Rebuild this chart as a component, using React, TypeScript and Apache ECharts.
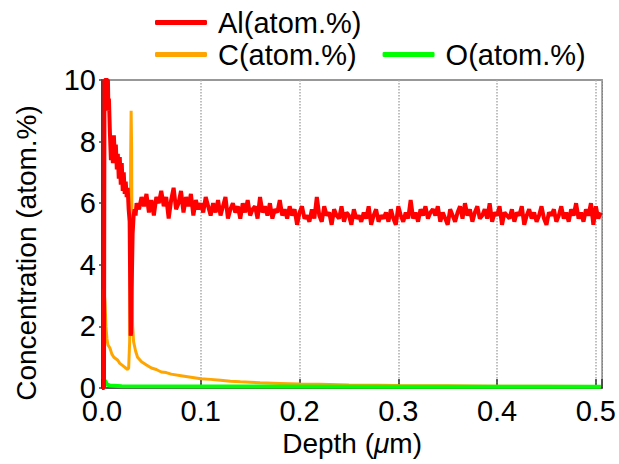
import React, { useEffect, useRef } from "react";
import * as echarts from "echarts";

// ---------- data ----------
const seriesNames = ["Al(atom.%)", "C(atom.%)", "O(atom.%)"];
const xTicks = [0, 0.1, 0.2, 0.3, 0.4, 0.5];
const yTicks = [0, 2, 4, 6, 8, 10];

// Al: near-surface part (depth in µm)
const alHeadDepth = [
  0, 0.002, 0.0025, 0.006, 0.0065, 0.007, 0.008, 0.009, 0.01, 0.011, 0.012,
  0.013, 0.014, 0.015, 0.016, 0.017, 0.018, 0.019, 0.02, 0.021, 0.022, 0.023,
  0.024, 0.025, 0.026, 0.027, 0.028, 0.0285, 0.029, 0.0295, 0.03, 0.031,
  0.032, 0.033, 0.034, 0.035,
];
const alHeadValue = [
  0, 0, 10, 10, 9.0, 9.4, 8.3, 7.4, 8.1, 7.3, 8.2, 7.5, 7.9, 7.1, 7.6, 6.8,
  7.5, 6.6, 7.3, 6.4, 7.0, 6.3, 6.7, 6.2, 6.5, 5.8, 5.4, 3.5, 1.7, 1.8, 3.2,
  5.0, 5.6, 5.8, 5.6, 6.0,
];
// Al: bulk part, sampled every 0.0025 µm from 0.0375 µm
const alTailStart = 0.0375;
const alTailStep = 0.0025;
const alTailValue = [
  5.8, 6.2, 5.9, 6.3, 5.7, 6.1, 5.6, 6.2, 6.0, 6.4,
  5.9, 6.2, 5.5, 6.1, 6.5, 5.8, 6.0, 6.4, 5.7, 6.2,
  5.9, 6.3, 5.6, 6.1, 5.8, 6.0, 5.7, 6.2, 5.9, 5.6,
  6.0, 5.7, 6.1, 5.6, 5.9, 6.2, 5.5, 5.8, 6.0, 5.7,
  5.9, 5.5, 6.0, 5.7, 6.1, 5.6, 5.8, 5.9, 5.5, 6.2,
  5.7, 5.9, 5.6, 6.0, 5.5, 5.8, 5.7, 6.1, 5.6, 5.8,
  5.5, 5.9, 5.6, 5.8, 5.3, 5.7, 5.9, 5.5, 5.6, 5.4,
  5.8, 5.5, 6.2, 5.6, 5.4, 5.9, 5.6, 5.7, 5.3, 5.8,
  5.6, 5.5, 5.9, 5.4, 5.7, 5.6, 5.3, 5.8, 5.5, 5.6,
  5.4, 5.7, 5.5, 5.9, 5.3, 5.6, 5.8, 5.4, 5.6, 5.5,
  5.7, 5.4, 5.8, 5.5, 5.3, 5.9, 5.6, 5.4, 5.7, 5.5,
  6.1, 5.5, 5.7, 5.4, 5.8, 5.6, 5.9, 5.5, 5.7, 5.8,
  5.6, 5.9, 5.4, 5.7, 5.5, 5.3, 5.8, 5.6, 5.4, 5.7,
  5.9, 5.5, 6.0, 5.6, 5.8, 5.4, 5.7, 5.9, 5.5, 5.6,
  5.8, 5.5, 6.0, 5.4, 5.7, 5.6, 5.9, 5.3, 5.7, 5.6,
  5.5, 5.8, 5.4, 5.7, 5.6, 5.9, 5.3, 5.6, 5.8, 5.5,
  5.7, 5.4, 5.6, 5.9, 5.5, 5.3, 5.7, 5.6, 5.8, 5.4,
  5.6, 5.9, 5.5, 5.7, 5.4, 5.8, 5.6, 6.0, 5.5, 5.7,
  5.4, 5.8, 5.6, 6.0, 5.3, 5.9, 5.5, 5.7,
];

const cDepth = [
  0, 0.0015, 0.002, 0.003, 0.004, 0.005, 0.006, 0.008, 0.01, 0.012, 0.014,
  0.016, 0.018, 0.02, 0.022, 0.024, 0.026, 0.027, 0.028, 0.029, 0.0295, 0.03,
  0.0305, 0.031, 0.032, 0.034, 0.036, 0.04, 0.045, 0.05, 0.055, 0.06, 0.065,
  0.07, 0.08, 0.09, 0.1, 0.11, 0.12, 0.13, 0.14, 0.15, 0.16, 0.18, 0.2, 0.22,
  0.25, 0.28, 0.3, 0.35, 0.4, 0.45, 0.505,
];
const cValue = [
  0, 0, 3.2, 2.8, 2.0, 1.6, 1.4, 1.3, 1.1, 1.0, 0.95, 0.9, 0.8, 0.75, 0.7,
  0.65, 0.6, 0.65, 1.5, 7.5, 9.0, 7.8, 3.0, 2.0, 1.5, 1.2, 1.0, 0.85, 0.75,
  0.65, 0.6, 0.52, 0.5, 0.45, 0.4, 0.35, 0.3, 0.28, 0.25, 0.22, 0.2, 0.19,
  0.17, 0.15, 0.13, 0.12, 0.1, 0.09, 0.08, 0.07, 0.06, 0.06, 0.05,
];

const oDepth = [0, 0.002, 0.003, 0.005, 0.008, 0.02, 0.1, 0.3, 0.505];
const oValue = [0, 0, 0.25, 0.12, 0.08, 0.06, 0.05, 0.04, 0.04];

const COLORS = { Al: "#ff0000", C: "#ffa500", O: "#00ff00" };
const FONT = "'Liberation Sans', Arial, sans-serif";

function pairs(xs: number[], ys: number[]) {
  return ys.map((y, i) => [xs[i], y]);
}

export default function App() {
  const ref = useRef<HTMLDivElement>(null);

  useEffect(() => {
    if (!ref.current) return;
    const chart = echarts.init(ref.current, undefined, { renderer: "svg" });

    const alTailDepth = alTailValue.map((_, i) => +(alTailStart + i * alTailStep).toFixed(5));
    const alData = pairs(alHeadDepth, alHeadValue).concat(pairs(alTailDepth, alTailValue));
    const cData = pairs(cDepth, cValue);
    const oData = pairs(oDepth, oValue);

    const legendText = { fontFamily: FONT, fontSize: 29, color: "#000", lineHeight: 31, padding: [0, 0, 0, 6] };

    chart.setOption({
      animation: false,
      backgroundColor: "#fff",
      legend: [
        {
          data: [seriesNames[0]],
          left: 155,
          top: 7,
          padding: 0,
          itemWidth: 52,
          itemHeight: 5,
          icon: "roundRect",
          textStyle: legendText,
        },
        {
          data: [seriesNames[1], seriesNames[2]],
          left: 155,
          top: 39,
          padding: 0,
          itemGap: 26,
          itemWidth: 52,
          itemHeight: 5,
          icon: "roundRect",
          textStyle: legendText,
        },
      ],
      grid: {
        left: 102,
        right: 15,
        top: 80,
        bottom: 76,
        show: true,
        borderColor: "#777",
        borderWidth: 1.5,
        backgroundColor: "transparent",
      },
      xAxis: {
        type: "value",
        min: xTicks[0],
        max: 0.5064,
        interval: 0.1,
        name: "{n|Depth (}{i|μ}{n|m)}",
        nameLocation: "middle",
        nameGap: 34,
        nameTextStyle: {
          rich: {
            n: { fontFamily: FONT, fontSize: 28, color: "#000" },
            i: { fontFamily: FONT, fontSize: 28, color: "#000", fontStyle: "italic" },
          },
        },
        axisLine: { show: true, lineStyle: { color: "#444", width: 1.5 } },
        axisTick: { show: true, inside: true, length: 9, lineStyle: { color: "#333", width: 1.5 } },
        axisLabel: {
          fontFamily: FONT,
          fontSize: 29,
          color: "#000",
          margin: 8,
          formatter: (v: number) => (xTicks.some((t) => Math.abs(t - v) < 1e-9) ? v.toFixed(1) : ""),
        },
        splitLine: { show: true, lineStyle: { color: "#aaa", type: "dotted", width: 1.5 } },
      },
      yAxis: {
        type: "value",
        min: yTicks[0],
        max: yTicks[yTicks.length - 1],
        interval: 2,
        name: "Concentration (atom.%)",
        nameLocation: "middle",
        nameGap: 62,
        nameTextStyle: { fontFamily: FONT, fontSize: 28, color: "#000", padding: [0, 38, 0, 0] },
        axisLine: { show: true, lineStyle: { color: "#444", width: 2 } },
        axisTick: { show: true, inside: false, length: 3, lineStyle: { color: "#444", width: 1.5 } },
        axisLabel: { fontFamily: FONT, fontSize: 29, color: "#000", margin: 6 },
        splitLine: { show: false },
      },
      series: [
        {
          name: seriesNames[1],
          type: "line",
          data: cData,
          showSymbol: false,
          symbol: "none",
          itemStyle: { color: COLORS.C },
          lineStyle: { color: COLORS.C, width: 3 },
          z: 2,
        },
        {
          name: seriesNames[2],
          type: "line",
          data: oData,
          showSymbol: false,
          symbol: "none",
          itemStyle: { color: COLORS.O },
          lineStyle: { color: COLORS.O, width: 4 },
          z: 3,
        },
        {
          name: seriesNames[0],
          type: "line",
          data: alData,
          showSymbol: false,
          symbol: "none",
          itemStyle: { color: COLORS.Al },
          lineStyle: { color: COLORS.Al, width: 4 },
          z: 4,
        },
      ],
    });

    return () => chart.dispose();
  }, []);

  return (
    <div
      ref={ref}
      style={{ position: "fixed", left: 0, top: 0, width: 619, height: 464, background: "#fff" }}
    />
  );
}
